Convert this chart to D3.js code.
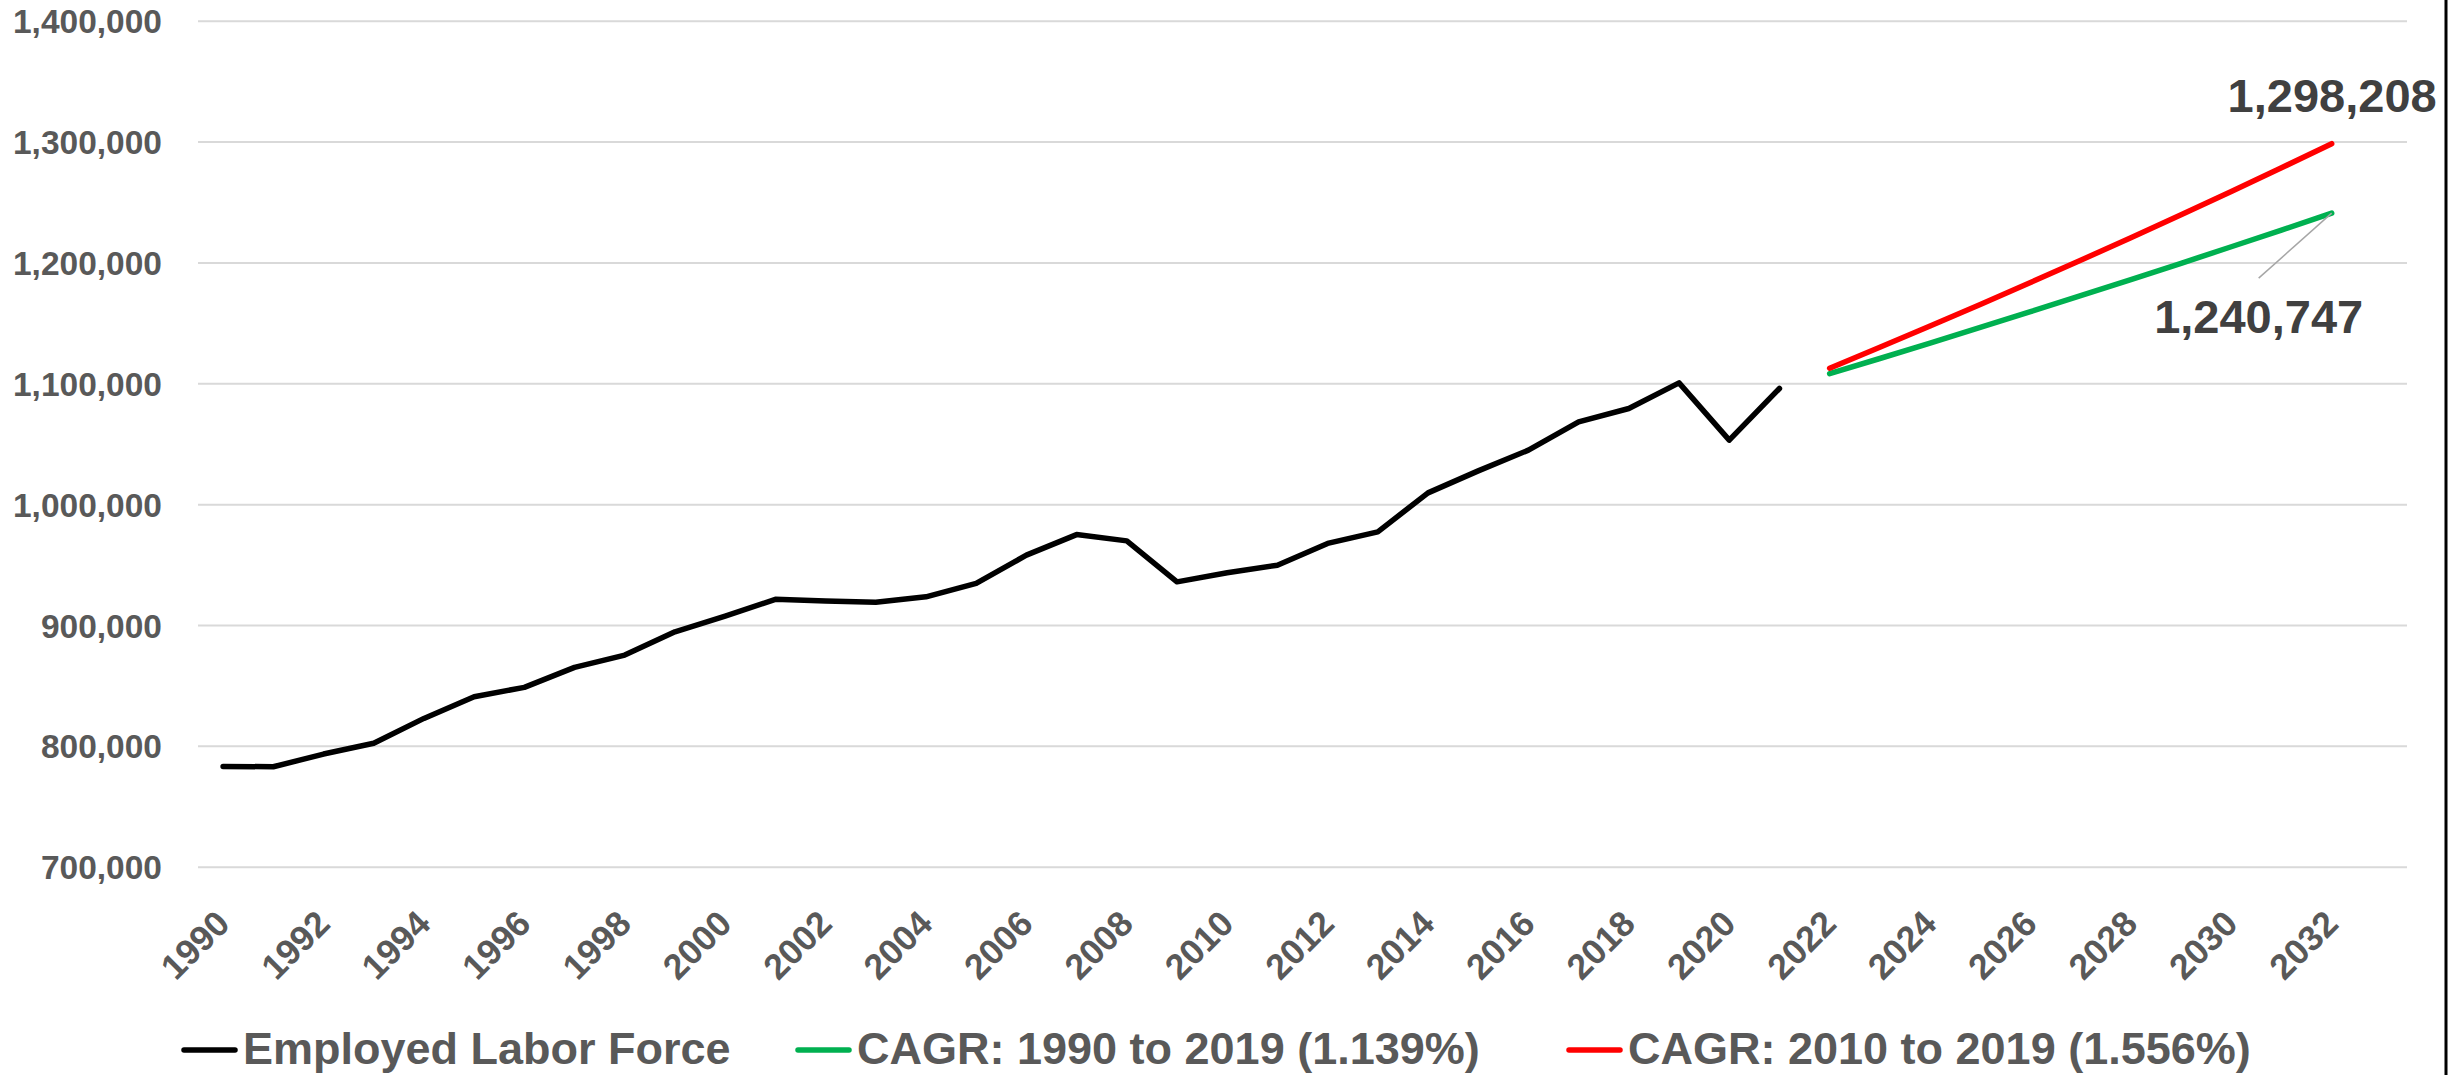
<!DOCTYPE html>
<html>
<meta charset="utf-8">
<style>
    body { margin: 0; background: #fff; }
    svg text { font-family: "Liberation Sans", Arial, sans-serif; font-weight: bold; }
    .grid line { stroke: #d9d9d9; stroke-width: 2px; }
</style>
<body>
<script src="https://cdn.jsdelivr.net/npm/d3@7"></script>
<div id="chart"></div>
<script>
// Years on the category axis (the last one is left empty, as in the original)
var years = d3.range(1990, 2034);
var tickYears = d3.range(1990, 2033, 2);
var yTicks = [700000, 800000, 900000, 1000000, 1100000, 1200000, 1300000, 1400000];

// Employed labor force, 1990-2021
var laborYears = d3.range(1990, 2022);
var laborForce = [783000, 782700, 793200, 802100, 822700, 840600, 848400, 864900,
                  875100, 894400, 907400, 921200, 919800, 918900, 923300, 934400,
                  957800, 974800, 969600, 935700, 943200, 949500, 967500, 977100,
                  1009300, 1027500, 1044700, 1068100, 1079100, 1100300, 1053000, 1095700];

// Projections 2022-2032
var projYears = d3.range(2022, 2033);
var cagrLong = [1107890, 1120500, 1133264, 1146173, 1159229, 1172433, 1185788,
                1199296, 1212957, 1226774, 1240747];
var cagrShort = [1112471, 1129781, 1147363, 1165218, 1183349, 1201761, 1220452,
                 1239449, 1258733, 1278317, 1298208];

var seriesNames = ["Employed Labor Force", "CAGR: 1990 to 2019 (1.139%)", "CAGR: 2010 to 2019 (1.556%)"];
var seriesColors = ["#000000", "#00b050", "#ff0000"];

var W = 2463, H = 1075;
var svg = d3.select("#chart").append("svg").attr("width", W).attr("height", H);

var x = d3.scalePoint().domain(years).range([198, 2407]).padding(0.5);
var y = d3.scaleLinear().domain([700000, 1400000]).range([866.7, 20.7]);

// y axis with gridlines
var yAxis = svg.append("g")
    .attr("class", "grid")
    .attr("transform", "translate(198,0)")
    .call(d3.axisLeft(y).tickValues(yTicks).tickSizeInner(-2209).tickSizeOuter(0)
        .tickPadding(36).tickFormat(d3.format(",")));
yAxis.select(".domain").remove();
yAxis.selectAll("text")
    .attr("fill", "#595959")
    .style("font-size", "33.5px")
    .attr("dy", "0.36em");

// x axis, rotated labels
var xAxis = svg.append("g")
    .attr("transform", "translate(0," + y(700000) + ")")
    .call(d3.axisBottom(x).tickValues(tickYears).tickSize(0));
xAxis.select(".domain").remove();
xAxis.selectAll("text")
    .attr("fill", "#595959")
    .style("font-size", "35.5px")
    .attr("text-anchor", "end")
    .attr("x", 0).attr("y", 0).attr("dy", null)
    .attr("transform", "translate(8,59) rotate(-45)");

var line = d3.line().x(function(d) { return x(d[0]); }).y(function(d) { return y(d[1]); });

function drawSeries(yrs, vals, color) {
    svg.append("path")
        .datum(d3.zip(yrs, vals))
        .attr("fill", "none")
        .attr("stroke", color)
        .attr("stroke-width", 5.5)
        .attr("stroke-linejoin", "round")
        .attr("stroke-linecap", "round")
        .attr("d", line);
}
drawSeries(laborYears, laborForce, seriesColors[0]);
drawSeries(projYears, cagrLong, seriesColors[1]);
drawSeries(projYears, cagrShort, seriesColors[2]);

// end-point labels
var fmt = d3.format(",");
var lastYear = projYears[projYears.length - 1];
var redEnd = cagrShort[cagrShort.length - 1];
var greenEnd = cagrLong[cagrLong.length - 1];

svg.append("text")
    .attr("x", x(lastYear) + 105)
    .attr("y", y(redEnd) - 32)
    .attr("text-anchor", "end")
    .attr("fill", "#404040")
    .style("font-size", "47px")
    .text(fmt(redEnd));

svg.append("line")
    .attr("x1", x(lastYear)).attr("y1", y(greenEnd))
    .attr("x2", x(lastYear) - 73).attr("y2", y(greenEnd) + 65)
    .attr("stroke", "#a6a6a6").attr("stroke-width", 1.5);

svg.append("text")
    .attr("x", x(lastYear) - 73)
    .attr("y", y(greenEnd) + 120)
    .attr("text-anchor", "middle")
    .attr("fill", "#404040")
    .style("font-size", "47px")
    .text(fmt(greenEnd));

// legend: swatch start of each entry
var legendX = [182, 796, 1567];
var legend = svg.append("g");
seriesNames.forEach(function(name, i) {
    legend.append("line")
        .attr("x1", legendX[i] + 2).attr("x2", legendX[i] + 53)
        .attr("y1", 1050).attr("y2", 1050)
        .attr("stroke", seriesColors[i])
        .attr("stroke-width", 5.5)
        .attr("stroke-linecap", "round");
    legend.append("text")
        .attr("x", legendX[i] + 61)
        .attr("y", 1063.5)
        .attr("fill", "#595959")
        .style("font-size", "45px")
        .text(name);
});

// right border
svg.append("line")
    .attr("x1", 2446).attr("x2", 2446)
    .attr("y1", 0).attr("y2", H)
    .attr("stroke", "#000").attr("stroke-width", 3);
</script>
</body>
</html>
